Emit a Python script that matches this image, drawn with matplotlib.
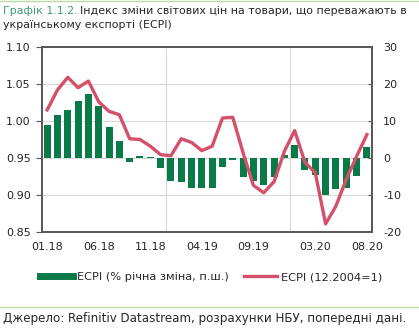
import matplotlib
matplotlib.use("Agg")
import matplotlib.pyplot as plt
from matplotlib.lines import Line2D
import numpy as np

plt.rcParams['font.family'] = ['DejaVu Sans']

months = ["01.18", "02.18", "03.18", "04.18", "05.18", "06.18", "07.18", "08.18",
          "09.18", "10.18", "11.18", "12.18", "01.19", "02.19", "03.19", "04.19",
          "05.19", "06.19", "07.19", "08.19", "09.19", "10.19", "11.19", "12.19",
          "01.20", "02.20", "03.20", "04.20", "05.20", "06.20", "07.20", "08.20"]
yoy_change = [8.8, 11.7, 13.1, 15.3, 17.4, 14.0, 8.4, 4.7,
              -1.0, 0.5, 0.4, -2.6, -6.1, -6.4, -8.1, -8.0,
              -8.0, -2.3, -0.5, -5.2, -6.3, -7.2, -5.0, 0.7,
              3.5, -3.2, -4.5, -10.1, -8.5, -8.1, -4.8, 3.0]
ecpi_index = [1.015, 1.042, 1.059, 1.045, 1.054, 1.026, 1.013, 1.0085,
              0.976, 0.975, 0.966, 0.9545, 0.953, 0.976, 0.971, 0.960,
              0.966, 1.004, 1.005, 0.957, 0.913, 0.903, 0.918, 0.959,
              0.987, 0.944, 0.930, 0.861, 0.885, 0.921, 0.952, 0.9815]
xtick_labels = ["01.18", "06.18", "11.18", "04.19", "09.19", "03.20", "08.20"]
left_ticks = [0.85, 0.90, 0.95, 1.00, 1.05, 1.10]
right_ticks = [-20, -10, 0, 10, 20, 30]

GREEN = "#0A7A48"
RED = "#D5506A"
SPINE = "#595959"
TXT = "#262626"

W, H = 419, 328
fig = plt.figure(figsize=(W / 100, H / 100), dpi=100)
ax2 = fig.add_axes([42 / W, 1 - 232 / H, 330 / W, 185 / H])
ax = ax2.twinx()
ax.yaxis.tick_left()
ax2.yaxis.tick_right()
ax.set_zorder(ax2.get_zorder() + 1)
ax.patch.set_visible(False)
ax2.patch.set_visible(True)
ax2.patch.set_facecolor("white")

x = np.arange(len(months))
bars = ax2.bar(x, yoy_change, width=0.68, color=GREEN, zorder=3,
               label="ECPI (% річна зміна, п.ш.)")
line, = ax.plot(x, ecpi_index, color=RED, lw=2.4, solid_joinstyle="round",
                label="ECPI (12.2004=1)")

ax2.set_ylim(-20, 30)
ax.set_ylim(0.85, 1.10)
ax2.set_xlim(-0.5, len(months) - 0.5)
ax2.set_yticks(right_ticks)
ax.set_yticks(left_ticks)
ax.set_yticklabels([f"{v:.2f}" for v in left_ticks])
ax2.set_yticklabels([str(v) for v in right_ticks])
for v in right_ticks:
    ax2.axhline(v, color="#D9D9D9", lw=0.8, zorder=1)
for v in [11.5, 23.5]:
    ax2.axvline(v, color="#D9D9D9", lw=0.8, zorder=1)

ax2.set_xticks([months.index(m) for m in xtick_labels])
ax2.set_xticklabels(xtick_labels)
ax2.tick_params(axis="x", length=0, pad=7, labelsize=8, labelcolor=TXT)
ax2.tick_params(axis="y", direction="in", length=3, color=SPINE, pad=8,
                labelsize=8, labelcolor=TXT)
ax.tick_params(axis="y", direction="out", length=4, color=SPINE, pad=4,
               labelsize=8, labelcolor=TXT)

for a in (ax, ax2):
    for s in a.spines.values():
        s.set_color(SPINE)
        s.set_linewidth(1.3)

handles = [Line2D([0], [0], color=GREEN, lw=5), Line2D([0], [0], color=RED, lw=2.4)]
fig.legend(handles, [bars.get_label(), line.get_label()], loc="center",
           bbox_to_anchor=(211 / W, 1 - 277 / H), ncol=2, frameon=False,
           fontsize=8.2, handlelength=2.9, handletextpad=0.3, columnspacing=1.4,
           labelcolor=TXT, borderpad=0, borderaxespad=0)

# Title
t1 = fig.text(3 / W, 1 - 14 / H, "Графік 1.1.2.", color="#3E9B72",
              fontsize=7.95, va="baseline", ha="left")
fig.canvas.draw()
bb = t1.get_window_extent()
fig.text(bb.x1 / W + 3 / W, 1 - 14 / H,
         "Індекс зміни світових цін на товари, що переважають в",
         color=TXT, fontsize=7.95, va="baseline", ha="left")
fig.text(3 / W, 1 - 28.5 / H, "українському експорті (ECPI)",
         color=TXT, fontsize=7.95, va="baseline", ha="left")

fig.add_artist(Line2D([0, 1], [1 - 0.5 / H, 1 - 0.5 / H], color="#B9DBA8", lw=1))
fig.add_artist(Line2D([0, 1], [1 - 307 / H, 1 - 307 / H], color="#B9DBA8", lw=1))
fig.text(3 / W, 1 - 322 / H,
         "Джерело: Refinitiv Datastream, розрахунки НБУ, попередні дані.",
         color=TXT, fontsize=8.6, va="baseline", ha="left")

fig.savefig("out.png", dpi=100)
